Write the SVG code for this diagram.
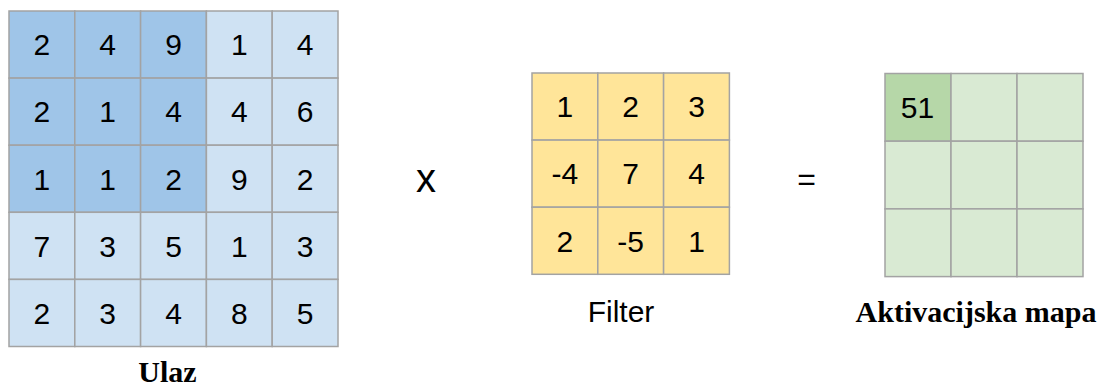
<svg xmlns="http://www.w3.org/2000/svg" width="1106" height="389" viewBox="0 0 1106 389">
<style>
.c{stroke:#a3a3a3;stroke-width:1.5}
.b1{fill:#9fc5e8}.b2{fill:#cfe2f3}.y{fill:#ffe599}.g1{fill:#b6d7a8}.g2{fill:#d9ead3}
.n{font-family:"Liberation Sans",Arial,sans-serif;font-size:30px;fill:#000;text-anchor:middle}
.lb{font-family:"Liberation Serif","Times New Roman",serif;font-size:30px;font-weight:bold;fill:#000;text-anchor:middle}
</style>
<rect width="1106" height="389" fill="#fff"/>
<g id="ulaz">
<rect class="c b1" x="9" y="11" width="65.8" height="67.1"/><rect class="c b1" x="74.8" y="11" width="65.8" height="67.1"/><rect class="c b1" x="140.6" y="11" width="65.8" height="67.1"/><rect class="c b2" x="206.4" y="11" width="65.8" height="67.1"/><rect class="c b2" x="272.2" y="11" width="65.8" height="67.1"/>
<rect class="c b1" x="9" y="78.1" width="65.8" height="67.1"/><rect class="c b1" x="74.8" y="78.1" width="65.8" height="67.1"/><rect class="c b1" x="140.6" y="78.1" width="65.8" height="67.1"/><rect class="c b2" x="206.4" y="78.1" width="65.8" height="67.1"/><rect class="c b2" x="272.2" y="78.1" width="65.8" height="67.1"/>
<rect class="c b1" x="9" y="145.2" width="65.8" height="67.1"/><rect class="c b1" x="74.8" y="145.2" width="65.8" height="67.1"/><rect class="c b1" x="140.6" y="145.2" width="65.8" height="67.1"/><rect class="c b2" x="206.4" y="145.2" width="65.8" height="67.1"/><rect class="c b2" x="272.2" y="145.2" width="65.8" height="67.1"/>
<rect class="c b2" x="9" y="212.3" width="65.8" height="67.1"/><rect class="c b2" x="74.8" y="212.3" width="65.8" height="67.1"/><rect class="c b2" x="140.6" y="212.3" width="65.8" height="67.1"/><rect class="c b2" x="206.4" y="212.3" width="65.8" height="67.1"/><rect class="c b2" x="272.2" y="212.3" width="65.8" height="67.1"/>
<rect class="c b2" x="9" y="279.4" width="65.8" height="67.1"/><rect class="c b2" x="74.8" y="279.4" width="65.8" height="67.1"/><rect class="c b2" x="140.6" y="279.4" width="65.8" height="67.1"/><rect class="c b2" x="206.4" y="279.4" width="65.8" height="67.1"/><rect class="c b2" x="272.2" y="279.4" width="65.8" height="67.1"/>
<text class="n" y="55.3"><tspan x="41.9">2</tspan><tspan x="107.7">4</tspan><tspan x="173.5">9</tspan><tspan x="239.3">1</tspan><tspan x="305.1">4</tspan></text>
<text class="n" y="122.4"><tspan x="41.9">2</tspan><tspan x="107.7">1</tspan><tspan x="173.5">4</tspan><tspan x="239.3">4</tspan><tspan x="305.1">6</tspan></text>
<text class="n" y="189.5"><tspan x="41.9">1</tspan><tspan x="107.7">1</tspan><tspan x="173.5">2</tspan><tspan x="239.3">9</tspan><tspan x="305.1">2</tspan></text>
<text class="n" y="256.6"><tspan x="41.9">7</tspan><tspan x="107.7">3</tspan><tspan x="173.5">5</tspan><tspan x="239.3">1</tspan><tspan x="305.1">3</tspan></text>
<text class="n" y="323.7"><tspan x="41.9">2</tspan><tspan x="107.7">3</tspan><tspan x="173.5">4</tspan><tspan x="239.3">8</tspan><tspan x="305.1">5</tspan></text>
<text class="lb" x="167.5" y="382">Ulaz</text>
</g>
<g id="operator-x"><text class="n" x="426" y="192.3" style="font-size:40px">x</text></g>
<g id="filter">
<rect class="c y" x="532" y="73" width="65.8" height="67.1"/><rect class="c y" x="597.8" y="73" width="65.8" height="67.1"/><rect class="c y" x="663.6" y="73" width="65.8" height="67.1"/>
<rect class="c y" x="532" y="140.1" width="65.8" height="67.1"/><rect class="c y" x="597.8" y="140.1" width="65.8" height="67.1"/><rect class="c y" x="663.6" y="140.1" width="65.8" height="67.1"/>
<rect class="c y" x="532" y="207.2" width="65.8" height="67.1"/><rect class="c y" x="597.8" y="207.2" width="65.8" height="67.1"/><rect class="c y" x="663.6" y="207.2" width="65.8" height="67.1"/>
<text class="n" y="117.3"><tspan x="564.9">1</tspan><tspan x="630.7">2</tspan><tspan x="696.5">3</tspan></text>
<text class="n" y="184.4"><tspan x="564.9">-4</tspan><tspan x="630.7">7</tspan><tspan x="696.5">4</tspan></text>
<text class="n" y="251.5"><tspan x="564.9">2</tspan><tspan x="630.7">-5</tspan><tspan x="696.5">1</tspan></text>
<text class="n" x="621" y="321.5">Filter</text>
</g>
<g id="operator-eq"><text class="n" x="806.5" y="190" style="font-size:32px">=</text></g>
<g id="aktivacijska-mapa">
<rect class="c g1" x="885" y="73.5" width="66" height="67.7"/><rect class="c g2" x="951" y="73.5" width="66" height="67.7"/><rect class="c g2" x="1017" y="73.5" width="66" height="67.7"/>
<rect class="c g2" x="885" y="141.2" width="66" height="67.7"/><rect class="c g2" x="951" y="141.2" width="66" height="67.7"/><rect class="c g2" x="1017" y="141.2" width="66" height="67.7"/>
<rect class="c g2" x="885" y="208.9" width="66" height="67.7"/><rect class="c g2" x="951" y="208.9" width="66" height="67.7"/><rect class="c g2" x="1017" y="208.9" width="66" height="67.7"/>
<text class="n" x="917.5" y="118">51</text>
<text class="lb" x="976" y="321.5">Aktivacijska mapa</text>
</g>
<g id="connectors"></g>
</svg>
